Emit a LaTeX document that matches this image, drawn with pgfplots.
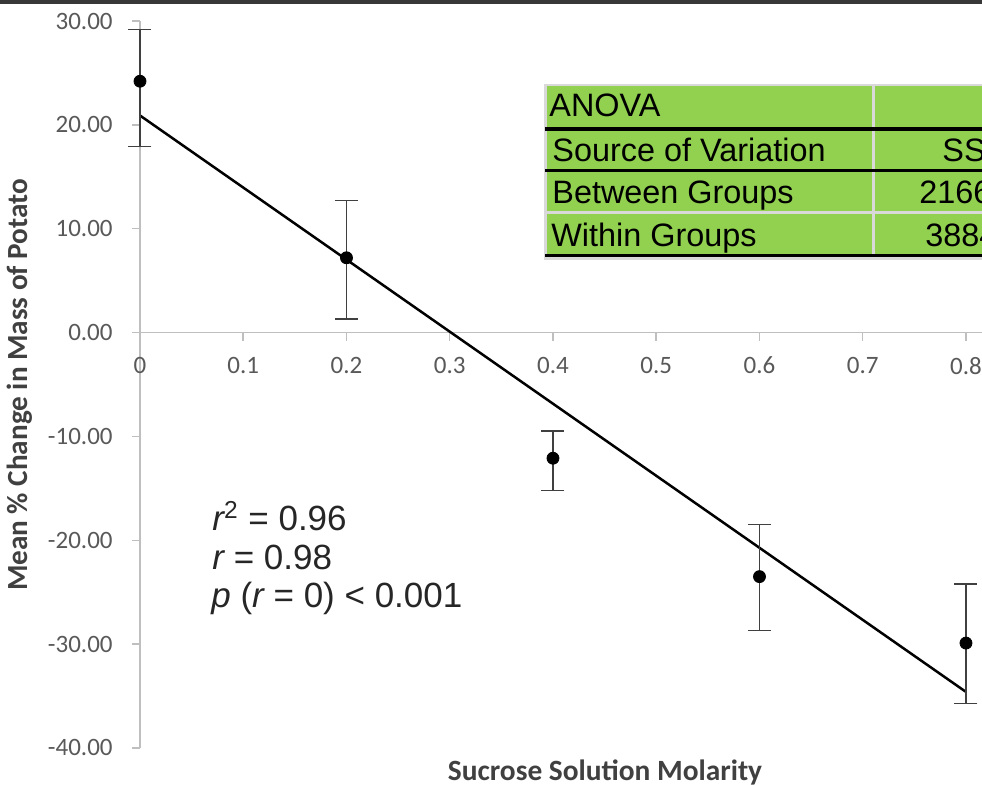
\documentclass[border=0pt]{standalone}
\usepackage{pgfplots}
\pgfplotsset{compat=1.18}
\usepackage{fontspec}
\setmainfont{Carlito}
\newfontfamily\arial{Liberation Sans}
\definecolor{axgray}{HTML}{BFBFBF}
\definecolor{lblgray}{HTML}{595959}
\definecolor{ttlgray}{HTML}{404040}
\definecolor{tgreen}{HTML}{92D050}
\definecolor{tgap}{HTML}{D9D9D9}
\begin{document}
\begin{tikzpicture}
\clip (0pt,0pt) rectangle (491pt,392.5pt);
\fill[white] (0pt,0pt) rectangle (491pt,392.5pt);
\begin{axis}[
  at={(70pt,18.5pt)}, anchor=south west,
  scale only axis, width=438.8pt, height=363.5pt,
  xmin=0, xmax=0.85, ymin=-40, ymax=30,
  axis x line=middle, axis y line=left,
  axis line style={draw=axgray, line width=0.75pt, -},
  hide obscured x ticks=false, hide obscured y ticks=false,
  clip=false,
  xtick={0,0.1,0.2,0.3,0.4,0.5,0.6,0.7,0.8},
  ytick={-40,-30,-20,-10,0,10,20,30},
  tick align=outside,
  major tick length=4pt,
  tick style={draw=axgray, line width=0.75pt},
  /pgf/number format/assume math mode=true,
  x tick label style={font=\fontsize{12.5}{14}\selectfont, text=lblgray, inner sep=0pt, anchor=north, yshift=-8pt,
    /pgf/number format/.cd, fixed, precision=1},
  y tick label style={font=\fontsize{12.5}{14}\selectfont, text=lblgray, inner sep=0pt, anchor=east, xshift=-9.5pt,
    /pgf/number format/.cd, fixed, fixed zerofill, precision=2},
]
\addplot[black, line width=1.25pt] coordinates {(0,20.9) (0.8,-34.6)};
\addplot[only marks, mark=*, mark size=3pt, black,
  error bars/.cd, y dir=both, y explicit,
  error bar style={black!75, line width=0.75pt},
  error mark options={rotate=90, mark size=5.75pt, black!75, line width=0.75pt}]
  coordinates {
   (0,24.2) += (0,5.0) -= (0,6.3)
   (0.2,7.2) += (0,5.5) -= (0,5.9)
   (0.4,-12.1) += (0,2.6) -= (0,3.1)
   (0.6,-23.5) += (0,5.0) -= (0,5.2)
   (0.8,-29.9) += (0,5.7) -= (0,5.8)
  };
\end{axis}
\begin{scope}[x=0.5pt,y=-0.5pt,shift={(0pt,392.5pt)}]
\fill[black!78] (0,0) rectangle (982,4);
% axis titles
\node[font=\fontsize{14.7}{17}\selectfont\bfseries, text=ttlgray] at (605,772) {Sucrose Solution Molarity};
\node[font=\fontsize{14.6}{17}\selectfont\bfseries, text=ttlgray, rotate=90] at (20,385) {Mean \% Change in Mass of Potato};
% statistics text
\begin{scope}[font=\arial\fontsize{17.5}{20}\selectfont, text=black!85]
\node[anchor=base west, inner sep=0pt] at (212,531) {{\itshape r}\textsuperscript{2} = 0.96};
\node[anchor=base west, inner sep=0pt] at (212,570) {{\itshape r} = 0.98};
\node[anchor=base west, inner sep=0pt] at (211,608) {{\itshape p} ({\itshape r} = 0) {<} 0.001};
\end{scope}
% ANOVA table
\fill[tgap] (544,84) rectangle (982,260);
\fill[tgreen] (546.5,86.5) rectangle (871.5,127);
\fill[tgreen] (875,86.5) rectangle (982,127);
\fill[black] (545,127) rectangle (982,131.5);
\fill[tgreen] (546.5,131.5) rectangle (871.5,169.5);
\fill[tgreen] (875,131.5) rectangle (982,169.5);
\fill[black] (545,169.5) rectangle (982,172.5);
\fill[tgreen] (546.5,172.5) rectangle (871.5,211.5);
\fill[tgreen] (875,172.5) rectangle (982,211.5);
\fill[tgreen] (546.5,214.5) rectangle (871.5,254.5);
\fill[tgreen] (875,214.5) rectangle (982,254.5);
\fill[black] (545,254.5) rectangle (982,257.5);
\begin{scope}[font=\arial\fontsize{16.2}{19}\selectfont, text=black]
\node[anchor=base west, inner sep=0pt] at (549,116.5) {ANOVA};
\node[anchor=base west, inner sep=0pt] at (552,161.5) {Source of Variation};
\node[anchor=base west, inner sep=0pt] at (552,203.5) {Between Groups};
\node[anchor=base west, inner sep=0pt] at (551,246.5) {Within Groups};
\node[anchor=base west, inner sep=0pt] at (942,161.5) {SS};
\node[anchor=base west, inner sep=0pt] at (919,203.5) {2166.67};
\node[anchor=base west, inner sep=0pt] at (925,246.5) {3884.1};
\end{scope}
\end{scope}
\end{tikzpicture}
\end{document}
